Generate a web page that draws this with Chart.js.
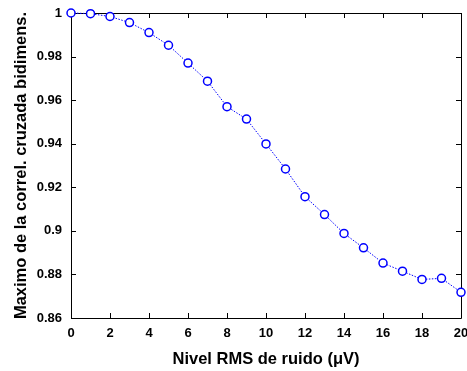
<!DOCTYPE html>
<html>
<head>
<meta charset="utf-8">
<script src="https://cdn.jsdelivr.net/npm/chart.js@4/dist/chart.umd.min.js"></script>
<style>
  html, body { margin: 0; padding: 0; background: #fff; }
  #wrap { width: 467px; height: 371px; }
</style>
</head>
<body>
<div id="wrap"><canvas id="c" width="467" height="371"></canvas></div>
<script>
const noiseLevels = [0,1,2,3,4,5,6,7,8,9,10,11,12,13,14,15,16,17,18,19,20];
const maxCorr = [1.0, 0.9997, 0.9984, 0.9956, 0.9910, 0.9852, 0.9770, 0.9687, 0.9570, 0.9513, 0.9399,
                 0.9284, 0.9157, 0.9075, 0.8988, 0.8922, 0.8852, 0.8815, 0.8777, 0.8782, 0.8718];
const xTicks = [0,2,4,6,8,10,12,14,16,18,20];
const yTicks = [0.86,0.88,0.90,0.92,0.94,0.96,0.98,1.0];
const xTitle = 'Nivel RMS de ruido (\u03BCV)';
const yTitle = 'Maximo de la correl. cruzada bidimens.';

const points = noiseLevels.map((x, i) => ({x: x, y: maxCorr[i]}));

const bgPlugin = {
  id: 'bg',
  beforeDraw(chart) {
    const ctx = chart.ctx;
    ctx.save();
    ctx.fillStyle = '#ffffff';
    ctx.fillRect(0, 0, chart.width, chart.height);
    ctx.restore();
  }
};

const boxTicks = {
  id: 'boxTicks',
  beforeDatasetsDraw(chart) {
    const {ctx, chartArea: a, scales: {x, y}} = chart;
    const L = 5;
    ctx.save();
    ctx.strokeStyle = '#000';
    ctx.lineWidth = 1;
    ctx.beginPath();
    ctx.rect(Math.round(a.left) + 0.5, Math.round(a.top) + 0.5, Math.round(a.right - a.left), Math.round(a.bottom - a.top));
    xTicks.forEach(v => {
      const px = Math.round(x.getPixelForValue(v)) + 0.5;
      ctx.moveTo(px, a.bottom); ctx.lineTo(px, a.bottom - L);
      ctx.moveTo(px, a.top); ctx.lineTo(px, a.top + L);
    });
    yTicks.forEach(v => {
      const py = Math.round(y.getPixelForValue(v)) + 0.5;
      ctx.moveTo(a.left, py); ctx.lineTo(a.left + L, py);
      ctx.moveTo(a.right, py); ctx.lineTo(a.right - L, py);
    });
    ctx.stroke();
    ctx.restore();
  }
};

new Chart(document.getElementById('c'), {
  type: 'line',
  data: {
    datasets: [{
      data: points,
      borderColor: '#0000ff',
      borderWidth: 1,
      borderDash: [1.5, 1.5],
      pointRadius: 4,
      pointBorderWidth: 1.5,
      pointBorderColor: '#0000ff',
      pointBackgroundColor: '#ffffff',
      tension: 0,
      clip: false
    }]
  },
  plugins: [bgPlugin, boxTicks],
  options: {
    responsive: false,
    animation: false,
    events: [],
    layout: { padding: { top: 13, right: 6, left: 0, bottom: 0 } },
    plugins: { legend: { display: false }, tooltip: { enabled: false } },
    scales: {
      x: {
        type: 'linear',
        min: 0, max: 20,
        afterBuildTicks(s) { s.ticks = xTicks.map(v => ({value: v})); },
        afterFit(s) { s.height = 53; s.paddingLeft = 0; s.paddingRight = 0; },
        grid: { display: false, drawTicks: false },
        border: { display: false },
        ticks: {
          padding: 8,
          color: '#000',
          maxRotation: 0,
          autoSkip: false,
          font: { family: 'Liberation Sans, Arial, sans-serif', size: 13, weight: 'bold' },
          callback: v => String(v)
        },
        title: {
          display: true,
          text: xTitle,
          color: '#000',
          font: { family: 'Liberation Sans, Arial, sans-serif', size: 16.5, weight: 'bold' },
          padding: { top: 0, bottom: 2 }
        }
      },
      y: {
        type: 'linear',
        min: 0.86, max: 1.0,
        afterBuildTicks(s) { s.ticks = yTicks.map(v => ({value: v})); },
        afterFit(s) { s.width = 71; s.paddingTop = 0; s.paddingBottom = 0; },
        grid: { display: false, drawTicks: false },
        border: { display: false },
        ticks: {
          padding: 9,
          color: '#000',
          autoSkip: false,
          font: { family: 'Liberation Sans, Arial, sans-serif', size: 13, weight: 'bold' },
          callback: v => String(Number(v.toFixed(2)))
        },
        title: {
          display: true,
          text: yTitle,
          color: '#000',
          font: { family: 'Liberation Sans, Arial, sans-serif', size: 16.5, weight: 'bold' },
          padding: { top: 12, bottom: 0 }
        }
      }
    }
  }
});
</script>
</body>
</html>
